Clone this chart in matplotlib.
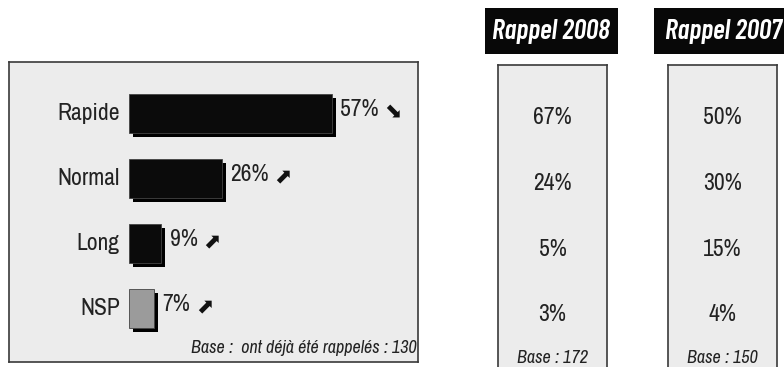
import matplotlib
matplotlib.use("Agg")
import matplotlib.pyplot as plt
import matplotlib.patheffects as pe
from matplotlib.patches import Rectangle

# Vitesse de rappel, 2009 avec tendance, puis rappels 2008 et 2007
categories = ["Rapide", "Normal", "Long", "NSP"]
values = [57, 26, 9, 7]
trends = ["down", "up", "up", "up"]
bar_colors = ["#0b0b0b", "#0b0b0b", "#0b0b0b", "#9b9b9b"]
base_text = "Base :  ont déjà été rappelés : 130"

rappel_years = ["Rappel 2008", "Rappel 2007"]
rappel_values = [[67, 24, 5, 3], [50, 30, 15, 4]]
rappel_bases = [172, 150]

FONT = ["Archivo Narrow", "DejaVu Sans"]
HEAD_FONT = ["Barlow Condensed", "Archivo Narrow", "DejaVu Sans"]
ARROWS = {"up": "\u2b08", "down": "\u2b0a"}
PANEL = "#ececec"
EDGE = "#3a3a3a"
INK = "#222222"

W, H = 784, 367
fig = plt.figure(figsize=(W / 100, H / 100), dpi=100)
fig.patch.set_facecolor("white")


def px_axes(x0, y0, x1, y1):
    # axes placed from pixel box (top-left origin)
    return fig.add_axes([x0 / W, 1 - y1 / H, (x1 - x0) / W, (y1 - y0) / H])


def panel_style(ax):
    ax.set_facecolor(PANEL)
    for s in ax.spines.values():
        s.set_color(EDGE)
        s.set_linewidth(1.2)
    ax.set_xticks([])
    ax.set_yticks([])


# ---- main bar panel ----
ax = px_axes(9, 62, 418, 362)
panel_style(ax)
ax.set_xlim(-33.7, 81.2)
ax.set_ylim(3.83, -0.785)

ypos = range(len(categories))
bars = ax.barh(ypos, values, height=0.6, color=bar_colors,
               edgecolor="#444444", linewidth=0.6)
for b in bars:
    b.set_path_effects([
        pe.SimplePatchShadow(offset=(3, -3), shadow_rgbFace="black", alpha=1.0),
        pe.Normal(),
    ])

for y, cat, v, t in zip(ypos, categories, values, trends):
    ax.text(-2.6, y, cat, ha="right", va="center", fontsize=17,
            family=FONT, color=INK)
    lab = ax.text(v + 2.4, y - 0.05, f"{v}%", ha="left", va="center",
                  fontsize=17, family=FONT, color=INK)
    ax.annotate(ARROWS[t], xy=(1, 0.5), xycoords=lab, xytext=(4, -1),
                textcoords="offset points", ha="left", va="center",
                fontsize=15, family="DejaVu Sans", color="#111111")

ax.text(80.8, 3.62, base_text, ha="right", va="center", fontsize=13,
        style="italic", family=FONT, color=INK)

# ---- previous years ----
for i, (year, vals, base) in enumerate(zip(rappel_years, rappel_values, rappel_bases)):
    x0 = 498 + i * 170
    rx = px_axes(x0, 65, x0 + 109, 372)
    panel_style(rx)
    rx.set_xlim(0, 1)
    rx.set_ylim(3.87, -0.807)
    for y, v in zip(range(len(vals)), vals):
        rx.text(0.5, y, f"{v}%", ha="center", va="center", fontsize=17,
                family=FONT, color=INK)
    rx.text(0.5, 3.65, f"Base : {base}", ha="center", va="center",
            fontsize=13, style="italic", family=FONT, color=INK)

    # black header tag above each column
    hx0 = 485 + i * 169
    hw = 133 if i == 0 else 140
    fig.patches.append(Rectangle((hx0 / W, 1 - 54 / H), hw / W, 46 / H,
                                 transform=fig.transFigure, facecolor="#080808",
                                 edgecolor="none"))
    cx = 551 if i == 0 else 723
    fig.text(cx / W, 1 - 31 / H, year, ha="center", va="center",
             fontsize=20, fontweight=600, style="italic",
             family=HEAD_FONT, color="white")

fig.savefig("out.png", dpi=100, facecolor="white")
